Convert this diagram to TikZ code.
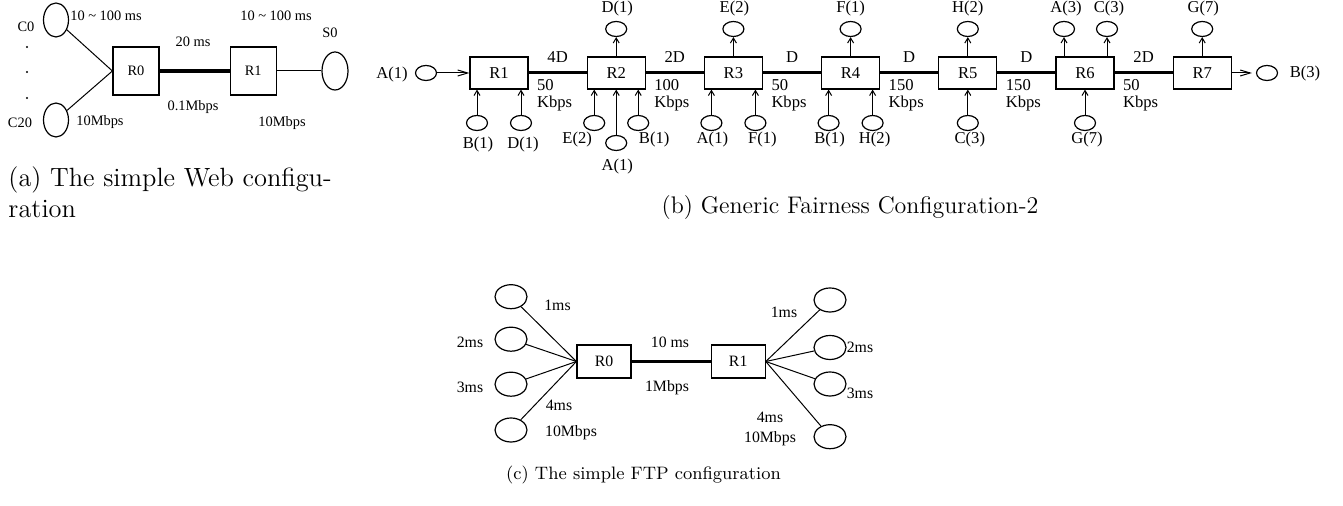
\documentclass[tikz,border=0pt]{standalone}
\usepackage{fontspec}
\newfontfamily\netfont{Liberation Serif}
\usetikzlibrary{shapes.geometric,arrows.meta,positioning}

\begin{document}
\begin{tikzpicture}[x=0.5pt, y=-0.5pt, line width=0.5pt, inner sep=0pt,
  >={Straight Barb[length=2.5pt,width=3pt]},
  longhead/.style={-{Straight Barb[length=5pt,width=3pt]}},
  router/.style={draw, rectangle, line width=0.6pt},
  host/.style={draw, ellipse, line width=0.6pt},
  trunk/.style={line width=1.5pt},
  lbla/.style={font=\netfont\fontsize{7.2}{8}\selectfont},
  lblb/.style={font=\netfont\fontsize{8.3}{8.3}\selectfont},
  lblc/.style={font=\netfont\fontsize{7.9}{9}\selectfont}]
\useasboundingbox (0,0) rectangle (1343,506);

% (a) simple Web configuration
\node[router, lbla, minimum width=23pt, minimum height=24pt] (r0a) at (136,71) {R0};
\node[router, lbla, minimum width=23pt, minimum height=24pt, right=35pt of r0a] (r1a) {R1};
\node[host, minimum width=12.5pt, minimum height=17pt] (c0) at (56,20) {};
\node[host, minimum width=12.5pt, minimum height=17pt] (c20) at (56,120) {};
\node[host, minimum width=13pt, minimum height=19pt] (s0) at (335,71) {};
\node[lbla] (c0l) at (26,27) {C0};
\node[lbla] (c20l) at (20,123) {C20};
\node[lbla] (s0l) at (330,33) {S0};
\fill (27,47) circle (0.6pt) (27,72) circle (0.6pt) (27,98) circle (0.6pt);
\node[lbla] (dla) at (106,16) {10 \textasciitilde{} 100 ms};
\node[lbla] (bla) at (100,122) {10Mbps};
\node[lbla] (dra) at (276,16) {10 \textasciitilde{} 100 ms};
\node[lbla] (bra) at (282,123) {10Mbps};
\node[lbla] (dma) at (193,42) {20 ms};
\node[lbla] (bma) at (193,107) {0.1Mbps};
\path (c0) edge (r0a.west)
      (c20) edge (r0a.west)
      (r1a) edge (s0);
\draw[line width=2pt] (r0a) -- (r1a);
\node[anchor=north west, align=left, font=\fontsize{13.2}{15.5}\selectfont] (capa) at (8,166) {(a) The simple Web configu-\\ration};

% (b) generic fairness configuration
\node[router, lblb, minimum width=29pt, minimum height=16pt] (r1) at (499,73) {R1};
\node[router, lblb, minimum width=29pt, minimum height=16pt, right=29pt of r1] (r2) {R2};
\node[router, lblb, minimum width=29pt, minimum height=16pt, right=29pt of r2] (r3) {R3};
\node[router, lblb, minimum width=29pt, minimum height=16pt, right=29pt of r3] (r4) {R4};
\node[router, lblb, minimum width=29pt, minimum height=16pt, right=29pt of r4] (r5) {R5};
\node[router, lblb, minimum width=29pt, minimum height=16pt, right=29pt of r5] (r6) {R6};
\node[router, lblb, minimum width=29pt, minimum height=16pt, right=29pt of r6] (r7) {R7};

\draw[trunk] (r1) -- node[lblb, above=4.7pt] (t12) {4D} (r2);
\draw[trunk] (r2) -- node[lblb, above=4.7pt] (t23) {2D} (r3);
\draw[trunk] (r3) -- node[lblb, above=4.7pt] (t34) {D} (r4);
\draw[trunk] (r4) -- node[lblb, above=4.7pt] (t45) {D} (r5);
\draw[trunk] (r5) -- node[lblb, above=4.7pt] (t56) {D} (r6);
\draw[trunk] (r6) -- node[lblb, above=4.7pt] (t67) {2D} (r7);

\node[lblb, anchor=north west, align=left] (bw12) at ([shift={(8,6)}]r1.east) {50\\Kbps};
\node[lblb, anchor=north west, align=left] (bw23) at ([shift={(8,6)}]r2.east) {100\\Kbps};
\node[lblb, anchor=north west, align=left] (bw34) at ([shift={(8,6)}]r3.east) {50\\Kbps};
\node[lblb, anchor=north west, align=left] (bw45) at ([shift={(8,6)}]r4.east) {150\\Kbps};
\node[lblb, anchor=north west, align=left] (bw56) at ([shift={(8,6)}]r5.east) {150\\Kbps};
\node[lblb, anchor=north west, align=left] (bw67) at ([shift={(8,6)}]r6.east) {50\\Kbps};

\tikzset{every node/.style={host, minimum width=10.5pt, minimum height=7.5pt}}
\node (srcA) at (426,73) {};
\node (dstB) at (1267,73) {};
\node (r1b) at ([shift={(-22,50)}]r1) {};
\node (r1d) at ([shift={(22,50)}]r1) {};
\node (r2d) at ([shift={(0,-44)}]r2) {};
\node (r2e) at ([shift={(-22,50)}]r2) {};
\node (r2a) at ([shift={(0,70)}]r2) {};
\node (r2b) at ([shift={(22,50)}]r2) {};
\node (r3e) at ([shift={(0,-44)}]r3) {};
\node (r3a) at ([shift={(-22,50)}]r3) {};
\node (r3f) at ([shift={(22,50)}]r3) {};
\node (r4f) at ([shift={(0,-44)}]r4) {};
\node (r4b) at ([shift={(-22,50)}]r4) {};
\node (r4h) at ([shift={(22,50)}]r4) {};
\node (r5h) at ([shift={(0,-44)}]r5) {};
\node (r5c) at ([shift={(0,50)}]r5) {};
\node (r6a) at ([shift={(-21,-44)}]r6) {};
\node (r6c) at ([shift={(22,-44)}]r6) {};
\node (r6g) at ([shift={(0,50)}]r6) {};
\node (r7g) at ([shift={(0,-44)}]r7) {};
\tikzset{every node/.style={}}

\node[lblb] (srcAl) at (392,75) {A(1)};
\node[lblb] (dstBl) at (1305,74) {B(3)};
\node[lblb] (r1bl) at ([shift={(1,22)}]r1b) {B(1)};
\node[lblb] (r1dl) at ([shift={(2,22)}]r1d) {D(1)};
\node[lblb] (r2dl) at ([shift={(1,-20)}]r2d) {D(1)};
\node[lblb] (r2el) at ([shift={(-17,17)}]r2e) {E(2)};
\node[lblb] (r2al) at ([shift={(1,24)}]r2a) {A(1)};
\node[lblb] (r2bl) at ([shift={(16,17)}]r2b) {B(1)};
\node[lblb] (r3el) at ([shift={(1,-20)}]r3e) {E(2)};
\node[lblb] (r3al) at ([shift={(1,17)}]r3a) {A(1)};
\node[lblb] (r3fl) at ([shift={(7,17)}]r3f) {F(1)};
\node[lblb] (r4fl) at ([shift={(0,-20)}]r4f) {F(1)};
\node[lblb] (r4bl) at ([shift={(1,17)}]r4b) {B(1)};
\node[lblb] (r4hl) at ([shift={(2,17)}]r4h) {H(2)};
\node[lblb] (r5hl) at ([shift={(0,-20)}]r5h) {H(2)};
\node[lblb] (r5cl) at ([shift={(2,17)}]r5c) {C(3)};
\node[lblb] (r6al) at ([shift={(2,-20)}]r6a) {A(3)};
\node[lblb] (r6cl) at ([shift={(2,-20)}]r6c) {C(3)};
\node[lblb] (r6gl) at ([shift={(2,17)}]r6g) {G(7)};
\node[lblb] (r7gl) at ([shift={(1,-20)}]r7g) {G(7)};

\draw[longhead] (srcA) -- (r1);
\draw[longhead, shorten >=2pt] (r7) -- (dstB);
\draw[->] (r1b) -- (r1b |- r1.south);
\draw[->] (r1d) -- (r1d |- r1.south);
\draw[->] (r2e) -- (r2e |- r2.south);
\draw[->] (r2a) -- (r2a |- r2.south);
\draw[->] (r2b) -- (r2b |- r2.south);
\draw[->] (r3a) -- (r3a |- r3.south);
\draw[->] (r3f) -- (r3f |- r3.south);
\draw[->] (r4b) -- (r4b |- r4.south);
\draw[->] (r4h) -- (r4h |- r4.south);
\draw[->] (r5c) -- (r5c |- r5.south);
\draw[->] (r6g) -- (r6g |- r6.south);
\draw[->] (r2d |- r2.north) -- (r2d);
\draw[->] (r3e |- r3.north) -- (r3e);
\draw[->] (r4f |- r4.north) -- (r4f);
\draw[->] (r5h |- r5.north) -- (r5h);
\draw[->] (r6a |- r6.north) -- (r6a);
\draw[->] (r6c |- r6.north) -- (r6c);
\draw[->] (r7g |- r7.north) -- (r7g);
\node[font=\fontsize{12}{14}\selectfont] (capb) at (850,208) {(b) Generic Fairness Configuration-2};

% (c) simple FTP configuration
\node[router, lblc, minimum width=27pt, minimum height=16.5pt] (r0c) at (604,361.5) {R0};
\node[router, lblc, minimum width=27pt, minimum height=16.5pt, right=39.5pt of r0c] (r1c) {R1};
\node[host, minimum width=16pt, minimum height=12pt] (l1) at (511,296.7) {};
\node[host, minimum width=16pt, minimum height=12pt] (l2) at (511,339.2) {};
\node[host, minimum width=16pt, minimum height=12pt] (l3) at (511,384.2) {};
\node[host, minimum width=16pt, minimum height=12pt] (l4) at (511,430) {};
\node[host, minimum width=16pt, minimum height=12pt] (q1) at (830,300) {};
\node[host, minimum width=16pt, minimum height=12pt] (q2) at (830,347.5) {};
\node[host, minimum width=16pt, minimum height=12pt] (q3) at (830,384) {};
\node[host, minimum width=16pt, minimum height=12pt] (q4) at (830,436.7) {};
\path (l1) edge (r0c.west)
      (l2) edge (r0c.west)
      (l3) edge (r0c.west)
      (l4) edge (r0c.west)
      (r1c.east) edge (q1)
      (r1c.east) edge (q2)
      (r1c.east) edge (q3)
      (r1c.east) edge (q4);
\draw[line width=1.3pt] (r0c) -- (r1c);
\node[lblc] (l1l) at (557.5,305) {1ms};
\node[lblc] (l2l) at (470,342) {2ms};
\node[lblc] (l3l) at (470,387) {3ms};
\node[lblc] (l4l) at (559,405) {4ms};
\node[lblc] (blc) at (571,433) {10Mbps};
\node[lblc] (dmc) at (670,342) {10 ms};
\node[lblc] (bmc) at (667,388) {1Mbps};
\node[lblc] (q1l) at (784,312) {1ms};
\node[lblc] (q2l) at (860,347) {2ms};
\node[lblc] (q3l) at (860,393) {3ms};
\node[lblc] (q4l) at (770,417) {4ms};
\node[lblc] (brc) at (770,439) {10Mbps};
\node[font=\fontsize{9}{11}\selectfont] (capc) at (643.5,475) {(c) The simple FTP configuration};
\end{tikzpicture}
\end{document}
